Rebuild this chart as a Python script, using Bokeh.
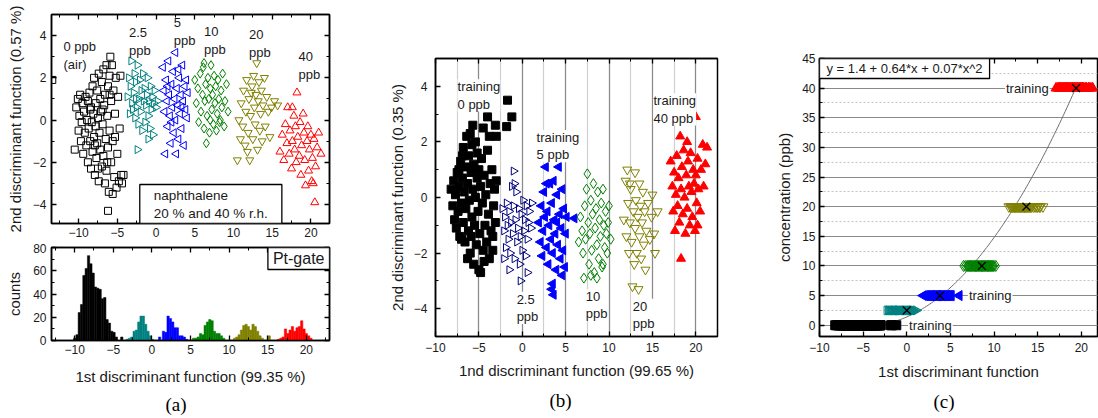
import numpy as np
from bokeh.plotting import figure
from bokeh.models import Range1d, LinearAxis, Label, Title, CustomJSTickFormatter, SingleIntervalTicker
from bokeh.layouts import row, column
from bokeh.embed import file_html
from bokeh.resources import INLINE

SANS = "Liberation Sans"
SERIF = "Liberation Serif"
TXT = "#1a1a1a"
TEAL, BLUE, GREEN, OLIVE, RED, NAVY = "#008080", "#0000FF", "#008000", "#808000", "#FF0000", "#000080"

# ---------------- panel (a) top: discriminant scores ----------------
a_air_x = [-10.5, -10.3, -10.1, -10.0, -9.9, -9.8, -9.7, -9.6, -9.5, -9.4,
           -9.3, -9.2, -9.1, -9.0, -8.9, -8.8, -8.8, -8.7, -8.6, -8.5,
           -8.5, -8.4, -8.3, -8.2, -8.2, -8.1, -8.0, -8.0, -7.9, -7.8,
           -7.8, -7.7, -7.6, -7.6, -7.5, -7.4, -7.4, -7.3, -7.2, -7.2,
           -7.1, -7.0, -7.0, -6.9, -6.8, -6.8, -6.7, -6.6, -6.6, -6.5,
           -6.4, -6.4, -6.3, -6.2, -6.2, -6.1, -6.0, -6.0, -5.9, -5.8,
           -5.8, -5.7, -5.6, -5.6, -5.5, -5.4, -5.3, -5.2, -5.1, -5.0,
           -4.9, -4.8, -4.7, -4.6, -4.5, -4.4, -4.2, -6.2, -13.4, -7.9,
           -6.9, -6.3, -5.3, -7.5, -8.4, -6.0]
a_air_y = [-1.4, 0.6, 1.0, -0.5, 0.2, 1.2, -1.0, -0.1, 0.8, -1.6,
           0.4, -0.6, 1.1, -1.2, 0.0, 0.9, -2.0, -0.4, 1.3, -1.0,
           0.5, -2.3, -0.1, 1.6, -1.5, 0.3, -0.8, 2.0, -2.6, 0.8,
           -0.3, -1.8, 1.4, -1.1, 0.1, 2.2, -2.9, -0.6, 1.0, -1.4,
           0.4, -2.2, 1.8, -0.2, 2.4, -1.7, 0.7, -3.0, 1.2, -0.9,
           2.6, -2.4, 0.2, 1.6, -1.3, -3.4, 2.1, -0.5, 3.0, -2.0,
           0.9, 2.6, -3.5, -1.0, 1.4, -2.7, 0.3, 2.0, -3.2, -1.6,
           1.1, -2.9, -0.4, 2.1, -2.6, -3.0, -2.6, -4.3, 1.9, -1.2,
           0.5, -2.0, -0.8, -2.3, 0.6, 1.2]
a_p25_x = [-3.7, -3.5, -3.4, -3.3, -3.2, -3.1, -2.4, -2.9, -2.8, -2.7,
           -2.6, -2.5, -2.4, -2.3, -2.2, -2.1, -2.0, -1.9, -1.8, -1.7,
           -1.6, -1.5, -1.4, -1.3, -1.2, -1.1, -1.0, -0.9, -0.8, -0.7,
           -0.6, -0.5, -0.4, -0.3, -0.2, 0.0, 0.2, -1.0, -2.6, -3.0]
a_p25_y = [1.1, 2.0, 0.3, 1.6, 2.8, 0.8, -1.4, 1.3, 2.2, 0.1,
           1.8, 0.6, 2.6, -0.2, 1.0, 1.9, 0.4, 1.4, -0.5, 2.2,
           0.9, 1.5, -0.1, 0.7, 1.2, 2.0, 0.2, 0.9, -0.4, 1.6,
           0.5, 1.1, -0.7, 0.8, 1.4, 0.6, 0.9, -0.9, 1.0, 0.5]
a_p5_x = [0.9, 1.0, 1.1, 1.2, 1.3, 1.4, 1.5, 1.6, 1.7, 1.8,
          1.9, 2.0, 2.1, 2.2, 2.3, 2.4, 2.5, 2.5, 2.6, 2.7,
          2.8, 2.9, 3.0, 3.1, 3.2, 3.3, 3.4, 3.5, 3.6, 3.7,
          3.8, 3.9, 4.0, 4.1, 2.0, 2.9, 1.5, 3.3]
a_p5_y = [2.5, 1.4, 0.4, -1.6, 1.9, 0.9, -0.3, 2.8, 1.2, 0.2,
          -1.1, 1.7, 0.6, 2.3, -0.6, 1.0, 3.2, 0.0, -1.6, 1.5,
          0.7, -0.9, 2.0, 0.3, 1.2, -0.4, 2.6, 0.9, -1.2, 1.6,
          0.5, 1.9, 0.1, 1.3, -0.1, 2.4, 1.6, 0.6]
a_p10_x = [5.0, 5.2, 5.4, 5.5, 5.7, 5.8, 6.0, 6.1, 6.2, 6.3,
           6.4, 6.5, 6.6, 6.7, 6.8, 6.9, 7.0, 7.1, 7.2, 7.3,
           7.4, 7.5, 7.6, 7.7, 7.8, 7.9, 8.0, 8.1, 8.2, 8.4,
           8.5, 8.6, 8.8, 8.9, 9.1, 9.3, 7.0, 6.2, 8.3]
a_p10_y = [1.9, 0.8, 1.5, -0.1, 2.2, 0.4, 1.2, 2.5, -0.4, 0.9,
           1.7, -1.1, 0.2, 2.0, 1.0, -0.6, 1.5, 2.6, 0.5, 1.2,
           -0.2, 2.1, 0.8, 1.6, -0.5, 0.3, 1.9, 1.0, -0.1, 1.4,
           0.6, 2.2, -0.3, 0.9, 1.7, 0.4, 0.0, 2.7, 0.0]
a_p20_x = [10.5, 10.7, 10.9, 11.0, 11.2, 11.3, 11.5, 11.6, 11.7, 11.9,
           12.0, 12.1, 12.2, 12.4, 12.5, 12.6, 12.7, 12.8, 12.9, 13.0,
           13.1, 13.2, 13.3, 13.4, 13.5, 13.6, 13.7, 13.8, 14.0, 14.1,
           14.3, 14.5, 14.7, 14.9, 15.3, 15.7, 11.8, 12.3]
a_p20_y = [-1.9, 0.0, -0.9, 0.8, -0.3, 1.4, -1.2, 0.4, 1.9, -0.6,
           1.0, -1.9, 0.2, 1.6, -0.9, 2.1, 0.6, -0.2, 1.2, 2.7,
           -1.4, 0.9, 1.8, -0.5, 0.3, 1.4, -1.0, 0.7, 2.0, -0.3,
           1.1, 0.4, -0.8, 0.6, 0.9, 0.7, -1.5, 1.3]
a_p40_x = [16.0, 16.3, 16.5, 16.7, 16.9, 17.0, 17.2, 17.3, 17.5, 17.6,
           17.8, 17.9, 18.0, 18.1, 18.2, 18.3, 18.5, 18.6, 18.7, 18.8,
           19.0, 19.1, 19.2, 19.3, 19.5, 19.6, 19.7, 19.8, 20.0, 20.1,
           20.2, 20.4, 20.5, 20.6, 20.8, 21.0, 21.3, 20.3, 17.6]
a_p40_y = [-1.5, -0.7, -1.9, -0.2, -1.1, 0.6, -1.6, -0.5, -2.3, -1.0,
           0.2, -1.4, -0.3, -2.0, 1.3, -0.8, -1.7, -0.1, -2.6, -1.2,
           0.3, -0.6, -1.9, -3.1, -1.0, -0.3, -2.4, -1.4, -0.7, -2.9,
           -1.8, -0.9, -3.9, -2.2, -1.3, -0.6, -1.6, -3.0, 0.6]

# ---------------- panel (a) bottom: histograms of 1st function ----------------
h_air_x = [-10.0, -9.7, -9.4, -9.1, -8.8, -8.5, -8.2, -7.9, -7.6, -7.3,
           -7.0, -6.7, -6.4, -6.1, -5.8, -5.5, -5.2, -4.9, -4.6, -3.9]
h_air_c = [2, 5, 24, 31, 56, 62, 73, 66, 58, 46, 45, 44, 36, 37, 18, 15, 8, 7, 3, 3]
h_p25_x = [-3.2, -2.9, -2.6, -2.3, -2.0, -1.7, -1.4, -1.1, -0.8, -0.5, -0.2, 0.1]
h_p25_c = [1, 2, 3, 8, 9, 16, 21, 21, 14, 8, 4, 1]
h_p5_x = [1.0, 1.5, 1.8, 2.1, 2.4, 2.7, 3.0, 3.3, 3.6, 3.9, 4.2, 4.5]
h_p5_c = [3, 8, 7, 21, 19, 16, 11, 11, 4, 4, 3, 1]
h_p10_x = [5.4, 5.7, 6.0, 6.3, 6.6, 6.9, 7.2, 7.5, 7.8, 8.1, 8.4, 8.7, 9.0, 9.3]
h_p10_c = [2, 2, 3, 6, 5, 13, 16, 18, 17, 8, 6, 6, 4, 2]
h_p20_x = [10.7, 11.0, 11.3, 11.6, 11.9, 12.2, 12.5, 12.8, 13.1, 13.4, 13.7, 14.0, 14.3, 15.2]
h_p20_c = [2, 3, 5, 9, 13, 14, 12, 9, 14, 12, 8, 4, 2, 4]
h_p40_x = [16.4, 16.7, 17.0, 17.3, 17.6, 17.9, 18.2, 18.5, 18.8, 19.1, 19.4, 19.7, 20.0, 20.3, 20.6]
h_p40_c = [1, 2, 3, 10, 6, 9, 12, 8, 11, 12, 17, 10, 6, 4, 2]

# ---------------- panel (b): training / test scores ----------------
b_air_x = [-8.2, -8.0, -7.9, -7.8, -7.7, -7.6, -7.5, -7.4, -7.3, -7.2,
           -7.1, -7.0, -6.9, -6.8, -6.8, -6.7, -6.6, -6.5, -6.5, -6.4,
           -6.3, -6.2, -6.2, -6.1, -6.0, -6.0, -5.9, -5.8, -5.8, -5.7,
           -5.6, -5.6, -5.5, -5.4, -5.4, -5.3, -5.2, -5.2, -5.1, -5.0,
           -5.0, -4.9, -4.8, -4.8, -4.7, -4.6, -4.5, -4.5, -4.4, -4.3,
           -4.2, -4.1, -4.0, -3.9, -3.8, -3.8, -3.7, -3.6, -3.5, -3.4,
           -3.3, -3.2, -3.1, -3.0, -3.0, -3.1, -1.8, -1.7, -1.2, -6.3,
           -7.0, -5.9, -4.4, -3.4, -6.9, -7.3, -5.7, -4.0]
b_air_y = [0.3, -0.3, 0.6, -0.8, 0.1, -1.1, 0.9, -0.5, 0.4, -1.4,
           1.3, -0.2, 0.7, -0.9, 1.8, 0.2, -1.6, 1.1, -0.4, 2.2,
           0.5, -1.2, 1.5, -0.1, 2.3, -2.0, 0.9, -0.7, 1.9, 0.3,
           -2.4, 1.2, -1.0, 2.0, 0.0, -1.7, 0.7, 1.6, -0.5, -2.6,
           1.0, -1.3, 0.4, -2.7, 1.4, -0.2, 2.5, -1.9, 0.8, -1.0,
           0.1, -1.6, 1.7, -0.6, 2.2, -2.2, 0.5, -1.2, 1.0, -1.4,
           -0.3, 0.3, -0.9, 0.6, 2.2, 2.6, 2.55, 3.5, 2.9, -2.2,
           -1.5, -1.4, -2.3, -1.9, 1.5, 1.0, 2.6, 2.9]
b_p25_x = [-2.3, -2.1, -2.0, -1.9, -1.8, -1.7, -1.6, -1.5, -1.4, -1.3,
           -1.2, -1.1, -1.0, -0.9, -0.8, -0.7, -0.6, -0.5, -0.4, -0.3,
           -0.2, -0.1, 0.0, 0.1, 0.2, 0.3, 0.4, 0.5, 0.6, 0.7,
           0.8, 1.0, 1.1, -1.0, -0.9, -0.2, 0.6, -1.5, -2.1]
b_p25_y = [-0.4, -1.2, -0.7, -1.8, -0.2, -1.0, -1.5, -0.5, -2.0, -0.9,
           0.4, -1.3, -0.3, -2.2, -0.8, 0.2, -1.6, -1.1, -0.4, -2.4,
           -1.4, -0.6, -1.9, -0.1, -1.2, -0.8, -2.1, -0.3, -1.5, -0.9,
           -0.5, -1.1, -0.2, 0.95, 0.5, -3.0, -2.7, -2.6, -2.2]
b_p5_x = [1.9, 2.1, 2.2, 2.3, 2.4, 2.5, 2.6, 2.7, 2.8, 2.9,
          3.0, 3.1, 3.2, 3.3, 3.4, 3.5, 3.5, 3.6, 3.7, 3.8,
          3.9, 4.0, 4.1, 4.2, 4.3, 4.4, 4.5, 4.6, 4.7, 4.8,
          4.9, 5.0, 5.1, 6.0, 3.6, 3.4, 4.0, 2.8, 4.6]
b_p5_y = [-0.9, -1.6, -0.3, -2.1, -1.2, 0.2, -0.7, 1.1, -1.8, -0.5,
          -2.4, -1.0, 0.5, -1.5, -0.2, -3.1, -2.0, 0.6, -0.8, -1.3,
          -2.6, 0.1, -1.7, 1.1, -0.6, -2.2, -1.1, 0.3, -1.9, -0.4,
          -2.5, -1.3, -0.7, -0.75, -3.5, -3.3, -0.9, 0.5, -2.8]
b_p10_x = [6.5, 6.7, 6.9, 7.0, 7.1, 7.2, 7.3, 7.4, 7.5, 7.6,
           7.7, 7.8, 7.9, 8.0, 8.1, 8.2, 8.3, 8.4, 8.5, 8.6,
           8.7, 8.8, 8.9, 9.0, 9.1, 9.2, 9.3, 9.4, 9.5, 9.6,
           9.7, 9.8, 9.9, 10.0, 10.2, 7.9, 8.6, 9.3]
b_p10_y = [-1.6, -0.7, -1.2, -2.0, -2.9, -0.3, -1.5, 0.3, 0.85, -0.9,
           -2.4, -1.3, -0.1, -1.9, -0.6, 0.5, -2.7, -1.1, -0.4, -1.7,
           0.2, -2.2, -0.8, -1.4, -0.2, -2.5, 0.3, -1.0, -1.8, -0.5,
           -1.3, -2.0, -0.9, -0.3, -1.5, -2.8, -2.9, -2.4]
b_p20_x = [11.7, 11.9, 12.0, 12.1, 12.2, 12.3, 12.4, 12.5, 12.6, 12.7,
           12.8, 12.9, 13.0, 13.0, 13.1, 13.2, 13.3, 13.4, 13.5, 13.5,
           13.6, 13.7, 13.8, 13.9, 14.0, 14.1, 14.2, 14.3, 14.5, 14.7,
           14.9, 15.0, 15.2, 15.6, 15.3, 12.4]
b_p20_y = [-0.8, 0.6, -1.4, 1.0, -0.2, -2.0, -0.9, 0.3, -1.6, -3.2,
           -0.5, -2.4, 0.9, -1.1, -0.1, -2.0, -0.7, -3.3, 0.5, -1.4,
           -0.3, -2.2, -0.9, 0.2, -1.7, -0.5, -2.6, -1.2, -0.2, -1.5,
           -0.7, 0.1, -1.3, -0.5, -2.0, 0.5]
b_p40_x = [17.1, 17.3, 17.4, 17.5, 17.6, 17.7, 17.8, 17.9, 18.0, 18.1,
           18.2, 18.3, 18.3, 18.4, 18.5, 18.6, 18.7, 18.8, 18.9, 19.0,
           19.0, 19.1, 19.2, 19.3, 19.4, 19.5, 19.6, 19.7, 19.8, 19.9,
           20.0, 20.0, 20.1, 20.2, 20.3, 20.5, 20.6, 20.8, 20.9, 21.1,
           21.3, 20.2]
b_p40_y = [1.3, 0.4, -0.5, 0.9, -1.2, 0.1, 1.5, -0.3, 0.7, -0.9,
           2.2, -2.2, 0.3, 1.1, -0.6, 1.7, 0.0, -1.3, 0.8, 2.0,
           -0.4, 1.3, 0.4, -1.0, 1.6, 0.2, -0.7, 1.0, 0.5, -1.2,
           2.9, 0.8, -0.2, 1.4, 0.3, -0.5, 1.0, 1.9, 0.4, 1.2,
           1.8, -1.0]

# ---------------- panel (c): calibration ----------------
c_conc = [0, 2.5, 5, 10, 20, 40]
c_mean_x = [-5.3, 0.0, 3.8, 8.6, 13.7, 19.4]
fit_coef = [1.4, 0.64, 0.07]
fit_x_span = [-5.3, 19.6]


def blank_axis(ticker):
    return LinearAxis(ticker=ticker, formatter=CustomJSTickFormatter(code="return ''"),
                      major_label_text_font_size="0px", major_label_standoff=0)


def style(p, xint, yint, top=True, right=True, ystand=6, xstand=5, xlab_st=7, ylab_st=6):
    xt = SingleIntervalTicker(interval=xint, num_minor_ticks=2)
    yt = SingleIntervalTicker(interval=yint, num_minor_ticks=2)
    p.below[0].ticker = xt
    p.left[0].ticker = yt
    p.below[0].major_label_standoff = xstand
    p.left[0].major_label_standoff = ystand
    p.below[0].axis_label_standoff = xlab_st
    p.left[0].axis_label_standoff = ylab_st
    if top:
        p.add_layout(blank_axis(xt), "above")
    if right:
        p.add_layout(blank_axis(yt), "right")
    p.outline_line_color = "black"
    p.outline_line_width = 1.5
    p.outline_line_alpha = 1.0
    p.background_fill_color = "white"
    p.border_fill_color = "white"
    for ax in p.axis:
        ax.major_tick_in = 5
        ax.major_tick_out = 0
        ax.minor_tick_in = 3
        ax.minor_tick_out = 0
        ax.axis_line_width = 1.5
        ax.major_tick_line_width = 1.3
        ax.minor_tick_line_width = 1.0
        ax.axis_label_text_font = SANS
        ax.axis_label_text_font_size = "15px"
        ax.axis_label_text_font_style = "normal"
        ax.axis_label_text_color = TXT
        ax.major_label_text_color = TXT
        ax.major_label_text_font = SANS
    p.below[0].major_label_text_font_size = "12px"
    p.left[0].major_label_text_font_size = "12px"


def note(p, x, y, text, size="13px", align="left", baseline="top", bg=None, border=None,
         pad=None, lh=1.2):
    kw = dict(x=x, y=y, text=text, text_font=SANS, text_font_size=size, text_color=TXT,
              text_align=align, text_baseline=baseline, text_line_height=lh)
    if bg:
        kw["background_fill_color"] = bg
    if border:
        kw["border_line_color"] = border
        kw["border_line_width"] = 1.3
    if pad:
        kw["padding"] = pad
    p.add_layout(Label(**kw))


def panel_tag(p, text, standoff):
    p.add_layout(Title(text=text, align="left", offset=114, text_font=SERIF,
                       text_font_size="19px", text_font_style="normal", text_color="black",
                       standoff=standoff), "below")


# ---------- (a) top ----------
a1 = figure(width=368, height=243, x_range=Range1d(-13.5, 22.4), y_range=Range1d(-4.9, 5.0),
            output_backend="svg", toolbar_location=None,
            min_border_left=51, min_border_right=39, min_border_top=14, min_border_bottom=20)
a1.grid.visible = False
a1.yaxis.axis_label = "2nd discriminant function (0.57 %)"
style(a1, 5, 2, ystand=5, ylab_st=6, xstand=4)
mk = dict(fill_color=None, line_width=1.0)
a1.scatter(a_air_x, a_air_y, marker="square", size=7, line_color="black", **mk)
a1.scatter(a_p25_x, a_p25_y, marker="triangle", angle=-np.pi / 2, size=8, line_color=TEAL, **mk)
a1.scatter(a_p5_x, a_p5_y, marker="triangle", angle=np.pi / 2, size=8, line_color=BLUE, **mk)
a1.scatter(a_p10_x, a_p10_y, marker="diamond", size=9, line_color=GREEN, **mk)
a1.scatter(a_p20_x, a_p20_y, marker="inverted_triangle", size=8, line_color=OLIVE, **mk)
a1.scatter(a_p40_x, a_p40_y, marker="triangle", size=8, line_color=RED, **mk)
note(a1, -11.95, 3.85, "0 ppb\n(air)")
note(a1, -3.5, 4.5, "2.5\nppb")
note(a1, 2.3, 5.0, "5\nppb")
note(a1, 6.2, 4.55, "10\nppb")
note(a1, 12.0, 4.4, "20\nppb")
note(a1, 18.4, 3.35, "40\nppb")
note(a1, -2.1, -4.9, "naphthalene\n20 % and 40 % r.h.", size="13.5px", baseline="bottom",
     bg="white", border="black", pad=dict(left=14, right=14, top=3, bottom=3))

# ---------- (a) bottom ----------
a2 = figure(width=368, height=175, x_range=Range1d(-13.0, 23.0), y_range=Range1d(0, 80),
            output_backend="svg", toolbar_location=None,
            min_border_left=51, min_border_right=38, min_border_top=4, min_border_bottom=76)
a2.grid.visible = False
a2.xaxis.axis_label = "1st discriminant function (99.35 %)"
a2.yaxis.axis_label = "counts"
style(a2, 5, 20, ystand=5, ylab_st=7, xstand=4, xlab_st=11)
for hx, hc, col in [(h_air_x, h_air_c, "black"), (h_p25_x, h_p25_c, TEAL), (h_p5_x, h_p5_c, BLUE),
                    (h_p10_x, h_p10_c, GREEN), (h_p20_x, h_p20_c, OLIVE), (h_p40_x, h_p40_c, RED)]:
    a2.vbar(x=hx, top=hc, bottom=0, width=0.3, fill_color=col, line_color=col, line_width=0.5)
note(a2, 23.0, 80, "Pt-gate", size="16px", align="right", bg="white", border="black",
     pad=dict(left=5, right=5, top=2, bottom=3))
panel_tag(a2, "(a)", 8)

# ---------- (b) ----------
b = figure(width=402, height=418, x_range=Range1d(-10, 22.5), y_range=Range1d(-5, 5),
           output_backend="svg", toolbar_location=None,
           min_border_left=67, min_border_right=53, min_border_top=58, min_border_bottom=79)
b.ygrid.visible = False
b.xaxis.axis_label = "1nd discriminant function (99.65 %)"
b.yaxis.axis_label = "2nd discriminant function (0.35 %)"
style(b, 5, 2, right=False, ystand=8, ylab_st=5, xstand=6, xlab_st=7)
b.xgrid.grid_line_color = "#8a8a8a"
b.xgrid.grid_line_width = 1.2
b.xgrid.minor_grid_line_color = "#cfcfcf"
b.xgrid.minor_grid_line_width = 1.2
b.scatter(b_air_x, b_air_y, marker="square", size=8, line_color="black", fill_color="black")
b.scatter(b_p25_x, b_p25_y, marker="triangle", angle=-np.pi / 2, size=8, line_color=NAVY,
          fill_color=None, line_width=1.0)
b.scatter(b_p5_x, b_p5_y, marker="triangle", angle=np.pi / 2, size=9, line_color=BLUE, fill_color=BLUE)
b.scatter(b_p10_x, b_p10_y, marker="diamond", size=10, line_color=GREEN, fill_color=None, line_width=1.0)
b.scatter(b_p20_x, b_p20_y, marker="inverted_triangle", size=9, line_color=OLIVE, fill_color=None,
          line_width=1.0)
b.scatter(b_p40_x, b_p40_y, marker="triangle", size=9, line_color=RED, fill_color=RED)
for bx, by, bt in [(-7.46, 4.25, "training\n0 ppb"), (1.65, 2.43, "training\n5 ppb"),
                   (15.12, 3.75, "training\n40 ppb"), (-0.65, -3.39, "2.5\nppb"),
                   (7.31, -3.29, "10\nppb"), (12.73, -3.64, "20\nppb")]:
    note(b, bx, by, bt, bg="white", lh=1.15)
panel_tag(b, "(b)", 12)

# ---------- (c) ----------
c = figure(width=328, height=418, x_range=Range1d(-10, 21.85), y_range=Range1d(-1.9, 45),
           output_backend="svg", toolbar_location=None,
           min_border_left=49, min_border_right=1, min_border_top=54, min_border_bottom=80)
c.xgrid.visible = False
c.xaxis.axis_label = "1st discriminant function"
c.yaxis.axis_label = "concentration (ppb)"
style(c, 5, 5, right=False, ystand=4, ylab_st=6, xstand=6, xlab_st=8)
c.ygrid.grid_line_color = "#8a8a8a"
c.ygrid.grid_line_width = 1.2
c.ygrid.minor_grid_line_color = "#c4c4c4"
c.ygrid.minor_grid_line_dash = "2 2"
c.ygrid.minor_grid_line_width = 1.0
fx = np.linspace(fit_x_span[0], fit_x_span[1], 120)
fy = fit_coef[0] + fit_coef[1] * fx + fit_coef[2] * fx ** 2
c.line(fx, fy, line_color="#6e6e6e", line_width=1.0)
for cx, cy, mkr, col, fill, ang, sz in [
        (b_air_x, c_conc[0], "square", "black", "black", 0, 9),
        (b_p25_x, c_conc[1], "triangle", TEAL, None, -np.pi / 2, 9),
        (b_p5_x, c_conc[2], "triangle", BLUE, BLUE, np.pi / 2, 10),
        (b_p10_x, c_conc[3], "diamond", GREEN, None, 0, 11),
        (b_p20_x, c_conc[4], "inverted_triangle", OLIVE, None, 0, 10),
        (b_p40_x, c_conc[5], "triangle", RED, RED, 0, 10)]:
    c.scatter(cx, [cy] * len(cx), marker=mkr, size=sz, angle=ang, line_color=col,
              fill_color=fill, line_width=1.0)
c.scatter(c_mean_x, c_conc, marker="x", size=11, line_color="black", line_width=1.3)
note(c, -10, 45, "y = 1.4 + 0.64*x + 0.07*x^2", size="13px", bg="white", border="black",
     pad=dict(left=7, right=7, top=2, bottom=3))
note(c, 11.25, 40, "training", baseline="middle", bg="white", pad=dict(left=1, right=1, top=0, bottom=0))
note(c, 7.0, 5, "training", baseline="middle", bg="white", pad=dict(left=1, right=1, top=0, bottom=0))
note(c, 0.15, 0, "training", baseline="middle", bg="white", pad=dict(left=1, right=1, top=0, bottom=0))
panel_tag(c, "(c)", 13)

layout = row(column(a1, a2), b, c)
open("out.html", "w").write(file_html(layout, INLINE))
